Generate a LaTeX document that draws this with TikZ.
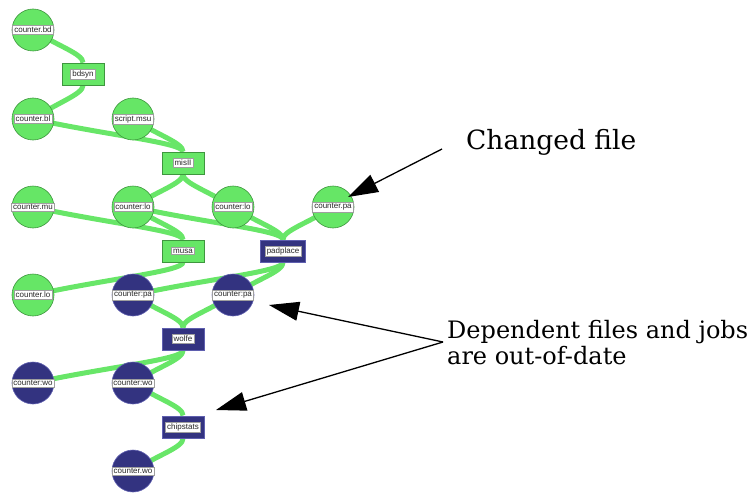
\documentclass[tikz,border=0pt]{standalone}
\usepackage{fontspec}
\usetikzlibrary{arrows.meta,calc,backgrounds}
\newfontfamily\tagfont{Liberation Sans}
\newfontfamily\notefont{DejaVu Serif}

\definecolor{fileGreen}{RGB}{102,230,102}
\definecolor{fileGreenEdge}{RGB}{62,150,62}
\definecolor{staleBlue}{RGB}{51,51,128}
\definecolor{staleBlueEdge}{RGB}{95,95,175}
\definecolor{linkGreen}{RGB}{104,230,104}

\tikzset{
  tag/.style={draw=gray!75, line width=0.5pt, fill=white, inner xsep=1.6pt,
    inner ysep=1.4pt, font=\tagfont\fontsize{8}{9}\selectfont, text=black!85},
  okfile/.style={circle, minimum size=42pt, inner sep=0pt, fill=fileGreen,
    draw=fileGreenEdge, line width=0.6pt, label={[tag]center:#1}},
  stalefile/.style={circle, minimum size=42pt, inner sep=0pt, fill=staleBlue,
    draw=staleBlueEdge, line width=0.6pt, label={[tag]center:#1}},
  okjob/.style={rectangle, minimum width=42pt, minimum height=22pt, inner sep=0pt,
    fill=fileGreen, draw=fileGreenEdge, line width=0.6pt, label={[tag]center:#1}},
  stalejob/.style={rectangle, minimum width=42pt, minimum height=22pt, inner sep=0pt,
    fill=staleBlue, draw=staleBlueEdge, line width=1pt, label={[tag]center:#1}},
  link/.style={draw=linkGreen, line width=5pt},
  note/.style={inner sep=0pt, anchor=base west, font=\notefont\fontsize{24}{26}\selectfont},
  pointer/.style={draw=black, line width=1.3pt, -{Triangle[length=30pt,width=19pt]}},
}

% file (circle) feeds a job (box) from above
\newcommand{\feeds}[2]{%
  \draw[link] (#1.center) .. controls ($(#1.center)!0.5!(#2.north)$)
    and ($(#2.north)+(0,-9)$) .. (#2.north);}
% job (box) produces a file (circle) below it
\newcommand{\yields}[2]{%
  \draw[link] (#1.south) .. controls ($(#1.south)+(0,9)$)
    and ($(#1.south)!0.5!(#2.center)$) .. (#2.center);}

\begin{document}
\begin{tikzpicture}[x=1pt,y=-1pt]
\useasboundingbox (0,0) rectangle (751,492);

% files and jobs
\node[okfile=counter.bd]    (bd)    at (33,30)  {};
\node[okjob=bdsyn]          (bdsyn) at (83,74)  {};
\node[okfile=counter.bl]    (bl)    at (33,119) {};
\node[okfile=script.msu]    (msu)   at (133,119) {};
\node[okjob=misII]          (misII) at (183,163) {};
\node[okfile=counter.mu]    (mu)    at (33,207) {};
\node[okfile=counter:lo]    (loA)   at (133,207) {};
\node[okfile=counter:lo]    (loB)   at (233,207) {};
\node[okfile=counter.pa]    (pa)    at (333,207) {};
\node[okjob=musa]           (musa)  at (183,251) {};
\node[stalejob=padplace, minimum width=45pt] (padplace) at (283,251) {};
\node[okfile=counter.lo]    (lo)    at (33,295) {};
\node[stalefile=counter:pa] (paA)   at (133,295) {};
\node[stalefile=counter:pa] (paB)   at (233,295) {};
\node[stalejob=wolfe]       (wolfe) at (183,339) {};
\node[stalefile=counter:wo] (woA)   at (33,383) {};
\node[stalefile=counter:wo] (woB)   at (133,383) {};
\node[stalejob=chipstats]   (chip)  at (183,427) {};
\node[stalefile=counter.wo] (woC)   at (133,471) {};

% dependency links, kept behind the nodes
\begin{scope}[on background layer]
  \feeds{bd}{bdsyn}
  \yields{bdsyn}{bl}
  \feeds{bl}{misII}
  \feeds{msu}{misII}
  \yields{misII}{loA}
  \yields{misII}{loB}
  \feeds{mu}{musa}
  \feeds{loA}{musa}
  \feeds{loA}{padplace}
  \feeds{loB}{padplace}
  \feeds{pa}{padplace}
  \yields{musa}{lo}
  \yields{padplace}{paA}
  \yields{padplace}{paB}
  \feeds{paA}{wolfe}
  \feeds{paB}{wolfe}
  \yields{wolfe}{woA}
  \yields{wolfe}{woB}
  \feeds{woB}{chip}
  \yields{chip}{woC}
\end{scope}

% annotations
\node[note, font=\notefont\fontsize{26.5}{28}\selectfont] (changed) at (466,149) {Changed file};
\node[note] (depA) at (447,338) {Dependent files and jobs};
\node[note] (depB) at (447,364) {are out-of-date};

\coordinate (changedFrom) at (442,149);
\coordinate (changedTo)   at (348,197);
\coordinate (depFrom)     at (443,342);
\coordinate (depToA)      at (269,305);
\coordinate (depToB)      at (216,410);

\draw[pointer] (changedFrom) -- (changedTo);
\draw[pointer] (depFrom) -- (depToA);
\draw[pointer] (depFrom) -- (depToB);
\end{tikzpicture}
\end{document}
